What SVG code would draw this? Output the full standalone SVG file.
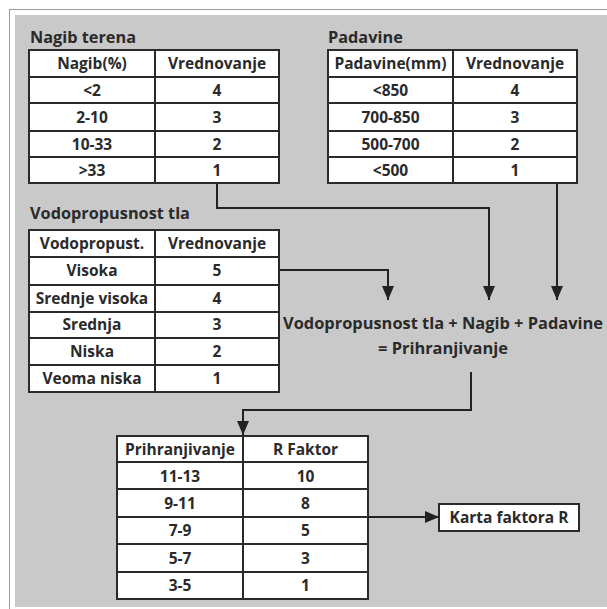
<svg xmlns="http://www.w3.org/2000/svg" width="607" height="609" viewBox="0 0 607 609">
<defs>
<style>
.bg{fill:#c9c9c9}
.tbl rect{fill:#ffffff;stroke:#2a2a2a;stroke-width:2}
.tbl line{stroke:#2a2a2a;stroke-width:2}
.c{font-family:"Open Sans","Noto Sans","DejaVu Sans",sans-serif;font-weight:bold;font-size:15.5px;fill:#2a2a2a;text-anchor:middle}
.t{font-family:"Open Sans","Noto Sans","DejaVu Sans",sans-serif;font-weight:bold;font-size:16.3px;fill:#2a2a2a}
.eq{font-family:"Open Sans","Noto Sans","DejaVu Sans",sans-serif;font-weight:bold;font-size:16.4px;fill:#2a2a2a;text-anchor:middle}
.conn path{fill:none;stroke:#222;stroke-width:2}
</style>
<marker id="ah" markerUnits="userSpaceOnUse" markerWidth="14" markerHeight="14" viewBox="0 0 14 12" refX="14" refY="6" orient="auto">
<path d="M0,0 L14,6 L0,12 z" fill="#222"/>
</marker>
</defs>
<rect x="0" y="0" width="607" height="609" fill="#ffffff"/>
<rect x="9.5" y="9.5" width="610" height="610" fill="none" stroke="#9a9a9a" stroke-width="1"/>
<rect class="bg" x="15" y="15" width="600" height="592"/>

<g id="nagib-terena">
<text class="t" x="30" y="43">Nagib terena</text>
<g class="tbl">
<rect x="29" y="50" width="250" height="133"/>
<line x1="155" y1="50" x2="155" y2="183"/>
<line x1="29" y1="77" x2="279" y2="77"/>
<line x1="29" y1="103" x2="279" y2="103"/>
<line x1="29" y1="131" x2="279" y2="131"/>
<line x1="29" y1="157" x2="279" y2="157"/>
</g>
<text class="c" x="92" y="69">Nagib(%)</text><text class="c" x="217" y="69">Vrednovanje</text>
<text class="c" x="92" y="96">&lt;2</text><text class="c" x="217" y="96">4</text>
<text class="c" x="92" y="123">2-10</text><text class="c" x="217" y="123">3</text>
<text class="c" x="92" y="150">10-33</text><text class="c" x="217" y="150">2</text>
<text class="c" x="92" y="176">&gt;33</text><text class="c" x="217" y="176">1</text>
</g>

<g id="padavine">
<text class="t" x="328" y="43">Padavine</text>
<g class="tbl">
<rect x="328" y="50" width="249" height="133"/>
<line x1="453" y1="50" x2="453" y2="183"/>
<line x1="328" y1="77" x2="577" y2="77"/>
<line x1="328" y1="103" x2="577" y2="103"/>
<line x1="328" y1="131" x2="577" y2="131"/>
<line x1="328" y1="157" x2="577" y2="157"/>
</g>
<text class="c" x="390.5" y="69">Padavine(mm)</text><text class="c" x="515" y="69">Vrednovanje</text>
<text class="c" x="390.5" y="96">&lt;850</text><text class="c" x="515" y="96">4</text>
<text class="c" x="390.5" y="123">700-850</text><text class="c" x="515" y="123">3</text>
<text class="c" x="390.5" y="150">500-700</text><text class="c" x="515" y="150">2</text>
<text class="c" x="390.5" y="176">&lt;500</text><text class="c" x="515" y="176">1</text>
</g>

<g id="vodopropusnost">
<text class="t" x="30" y="219">Vodopropusnost tla</text>
<g class="tbl">
<rect x="29" y="230" width="250" height="162"/>
<line x1="155" y1="230" x2="155" y2="392"/>
<line x1="29" y1="257" x2="279" y2="257"/>
<line x1="29" y1="285" x2="279" y2="285"/>
<line x1="29" y1="312" x2="279" y2="312"/>
<line x1="29" y1="338" x2="279" y2="338"/>
<line x1="29" y1="365" x2="279" y2="365"/>
</g>
<text class="c" x="92" y="249">Vodopropust.</text><text class="c" x="217" y="249">Vrednovanje</text>
<text class="c" x="92" y="276">Visoka</text><text class="c" x="217" y="276">5</text>
<text class="c" x="92" y="304">Srednje visoka</text><text class="c" x="217" y="304">4</text>
<text class="c" x="92" y="330">Srednja</text><text class="c" x="217" y="330">3</text>
<text class="c" x="92" y="357">Niska</text><text class="c" x="217" y="357">2</text>
<text class="c" x="92" y="384">Veoma niska</text><text class="c" x="217" y="384">1</text>
</g>

<g id="jednacina">
<text class="eq" x="443" y="329">Vodopropusnost tla + Nagib + Padavine</text>
<text class="eq" x="443" y="354">= Prihranjivanje</text>
</g>

<g id="prihranjivanje">
<g class="tbl">
<rect x="117" y="436" width="251" height="163"/>
<line x1="243" y1="436" x2="243" y2="599"/>
<line x1="117" y1="462" x2="368" y2="462"/>
<line x1="117" y1="489" x2="368" y2="489"/>
<line x1="117" y1="517" x2="368" y2="517"/>
<line x1="117" y1="544" x2="368" y2="544"/>
<line x1="117" y1="572" x2="368" y2="572"/>
</g>
<text class="c" x="180" y="455">Prihranjivanje</text><text class="c" x="305.5" y="455">R Faktor</text>
<text class="c" x="180" y="482">11-13</text><text class="c" x="305.5" y="482">10</text>
<text class="c" x="180" y="509">9-11</text><text class="c" x="305.5" y="509">8</text>
<text class="c" x="180" y="536">7-9</text><text class="c" x="305.5" y="536">5</text>
<text class="c" x="180" y="564">5-7</text><text class="c" x="305.5" y="564">3</text>
<text class="c" x="180" y="591">3-5</text><text class="c" x="305.5" y="591">1</text>
</g>

<g id="karta">
<rect x="439" y="504" width="140" height="27" fill="#ffffff" stroke="#2a2a2a" stroke-width="2"/>
<text class="c" x="509" y="523">Karta faktora R</text>
</g>

<g id="connectors" class="conn">
<path d="M217,183 V208 H489 V300" marker-end="url(#ah)"/>
<path d="M557,183 V300" marker-end="url(#ah)"/>
<path d="M279,270 H388 V300" marker-end="url(#ah)"/>
<path d="M471,372 V410 H243 V435" marker-end="url(#ah)"/>
<path d="M368,517 H439" marker-end="url(#ah)"/>
</g>
</svg>
